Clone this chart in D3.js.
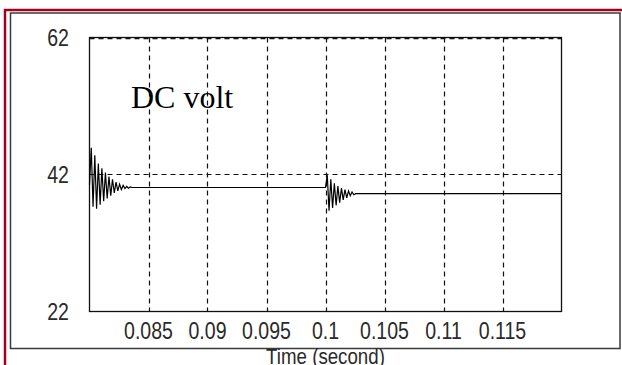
<!DOCTYPE html>
<html>
<head>
<meta charset="utf-8">
<script src="https://cdn.jsdelivr.net/npm/d3@7"></script>
<style>
  html, body { margin: 0; padding: 0; background: #fff; overflow: hidden; }
  svg { display: block; }
</style>
</head>
<body>
<script>
// Axis ticks and labels
const xTicks = [0.085, 0.09, 0.095, 0.1, 0.105, 0.11, 0.115];
const xTickLabels = ["0.085", "0.09", "0.095", "0.1", "0.105", "0.11", "0.115"];
const yTicks = [22, 42, 62];
const yTickLabels = ["22", "42", "62"];
const xDomain = [0.08, 0.12];
const yDomain = [22, 62];

// DC link voltage samples (time in seconds, volts)
const time = [
  0.08000, 0.08015, 0.08030, 0.08045, 0.08060, 0.08075, 0.08090, 0.08105, 0.08120, 0.08135,
  0.08150, 0.08165, 0.08180, 0.08195, 0.08210, 0.08225, 0.08240, 0.08255, 0.08270, 0.08285,
  0.08300, 0.08315, 0.08330, 0.08345, 0.08360,
  0.10000, 0.10015, 0.10030, 0.10045, 0.10060, 0.10075, 0.10090, 0.10105, 0.10120, 0.10135,
  0.10150, 0.10165, 0.10180, 0.10195, 0.10210, 0.10225, 0.10240, 0.10255,
  0.12000
];
const dcVolt = [
  40.5, 45.9, 37.3, 44.8, 37.0, 43.6, 37.6, 42.9, 38.1, 42.3,
  38.5, 41.7, 38.9, 41.3, 39.3, 40.9, 39.6, 40.6, 39.8, 40.4,
  39.95, 40.25, 40.0, 40.2, 40.1,
  40.1, 41.9, 36.7, 41.3, 37.1, 40.7, 37.5, 40.3, 37.9, 40.0,
  38.3, 39.8, 38.6, 39.6, 38.9, 39.45, 39.05, 39.2,
  39.2
];

const W = 622, H = 365;
const plot = { left: 89.5, right: 561.5, top: 37.5, bottom: 311.5 };

const svg = d3.select("body").append("svg")
  .attr("width", W).attr("height", H);

// Page edge decoration
svg.append("line").attr("x1", 4).attr("x2", W).attr("y1", 10).attr("y2", 10)
  .attr("stroke", "#a5001f").attr("stroke-width", 2.5);
svg.append("line").attr("x1", 5).attr("x2", 5).attr("y1", 9).attr("y2", H)
  .attr("stroke", "#a5001f").attr("stroke-width", 2.5);

// Figure frame
svg.append("rect").attr("x", 10.5).attr("y", 13).attr("width", 609.5).attr("height", 335.5)
  .attr("fill", "#fff").attr("stroke", "#3a3a3a").attr("stroke-width", 1.5);

const x = d3.scaleLinear().domain(xDomain).range([plot.left, plot.right]);
const y = d3.scaleLinear().domain(yDomain).range([plot.bottom, plot.top]);

const g = svg.append("g");

// Vertical grid
g.selectAll("line.vgrid").data(xTicks).join("line")
  .attr("class", "vgrid")
  .attr("x1", d => Math.round(x(d)) + 0.5).attr("x2", d => Math.round(x(d)) + 0.5)
  .attr("y1", plot.top).attr("y2", plot.bottom)
  .attr("stroke", "#111").attr("stroke-width", 1.2)
  .attr("stroke-dasharray", "5,4");

// Horizontal grid (the top one sits just under the frame edge)
g.selectAll("line.hgrid").data(yTicks.filter(d => d !== yDomain[0])).join("line")
  .attr("class", "hgrid")
  .attr("x1", plot.left).attr("x2", plot.right)
  .attr("y1", d => d === yDomain[1] ? y(d) + 1.2 : y(d))
  .attr("y2", d => d === yDomain[1] ? y(d) + 1.2 : y(d))
  .attr("stroke", "#111").attr("stroke-width", 1.2)
  .attr("stroke-dasharray", "5,4");

// Plot box
g.append("rect")
  .attr("x", plot.left).attr("y", plot.top)
  .attr("width", plot.right - plot.left).attr("height", plot.bottom - plot.top)
  .attr("fill", "none").attr("stroke", "#111").attr("stroke-width", 1.3);

// Voltage trace
const pts = time.map((t, i) => [t, dcVolt[i]]);
g.append("path")
  .datum(pts)
  .attr("fill", "none")
  .attr("stroke", "#000")
  .attr("stroke-width", 1.2)
  .attr("d", d3.line().x(d => x(d[0])).y(d => y(d[1])));

// Tick labels
const tickFont = "'Liberation Sans', Arial, sans-serif";
const sx = 0.85;
svg.append("g").selectAll("text").data(xTicks).join("text")
  .attr("transform", d => `translate(${x(d)},339) scale(${sx},1)`)
  .attr("text-anchor", "middle")
  .attr("font-family", tickFont).attr("font-size", 23)
  .attr("fill", "#2a2a2a")
  .text((d, i) => xTickLabels[i]);

svg.append("g").selectAll("text").data(yTicks).join("text")
  .attr("transform", d => `translate(58,${y(d) + 8}) scale(${sx},1)`)
  .attr("text-anchor", "middle")
  .attr("font-family", tickFont).attr("font-size", 23)
  .attr("fill", "#2a2a2a")
  .text((d, i) => yTickLabels[i]);

// Axis title
svg.append("text")
  .attr("transform", `translate(${(plot.left + plot.right) / 2},364) scale(${sx},1)`)
  .attr("text-anchor", "middle")
  .attr("font-family", tickFont).attr("font-size", 22)
  .attr("fill", "#2a2a2a")
  .text("Time (second)");

// In-plot caption
svg.append("text")
  .attr("x", 131).attr("y", 108)
  .attr("font-family", "'Liberation Serif', 'Times New Roman', serif")
  .attr("font-size", 32)
  .attr("fill", "#000")
  .text("DC volt");
</script>
</body>
</html>
